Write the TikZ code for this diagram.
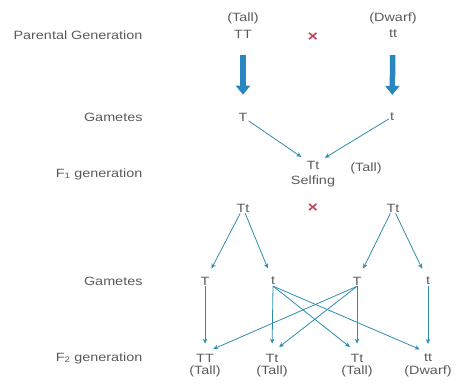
\documentclass[tikz,border=0pt]{standalone}
\usepackage{fontspec}
\setmainfont{Liberation Sans}[FakeStretch=1.2]
\usetikzlibrary{arrows.meta,positioning}
\definecolor{txtgray}{HTML}{5A5A5A}
\definecolor{linkblue}{HTML}{2E8DAE}
\definecolor{bigblue}{HTML}{2A86C0}
\definecolor{crossred}{HTML}{C24458}

\begin{document}
\begin{tikzpicture}[x=1pt, y=-1pt,
    rowlbl/.style={anchor=east, text=txtgray, font=\fontsize{12}{13}\selectfont},
    gene/.style={text=txtgray, inner sep=1pt, font=\fontsize{12}{13}\selectfont},
    cross/.style={text=crossred, inner sep=1pt, font=\fontsize{15}{16}\selectfont\bfseries},
    link/.style={draw=linkblue, thick, -{Stealth[length=5pt,width=4.5pt]}},
    bigarrow/.style={draw=bigblue, line width=5.5pt, -{Triangle[length=9pt,width=14pt]}}
]
    \useasboundingbox (0,0) rectangle (455,385);

    % row labels
    \node[rowlbl] (lpar) at (146,35) {Parental Generation};
    \node[rowlbl] (lgam1) at (146,117) {Gametes};
    \node[rowlbl] (lf1) at (146,174) {F\textsubscript{1} generation};
    \node[rowlbl] (lgam2) at (146,281) {Gametes};
    \node[rowlbl] (lf2) at (146,358) {F\textsubscript{2} generation};

    % parents
    \node[gene] (pTT) at (243,34) {TT};
    \node[gene] (ptt) at (393,34) {tt};
    \node[gene] (pTall) at (243,18) {(Tall)};
    \node[gene] (pDwarf) at (393,18) {(Dwarf)};
    \node[cross] (x1) at (313,37) {×};

    % gametes of parents
    \node[gene] (gT) at (243,117) {T};
    \node[gene] (gt) at (392,117) {t};
    \draw[bigarrow, shorten <=16pt, shorten >=17pt] (pTT) -- (gT);
    \draw[bigarrow, shorten <=16pt, shorten >=17pt] (ptt) -- (gt);

    % F1
    \node[gene] (f1) at (313,165) {Tt};
    \node[gene] (f1ph) at (366,168) {(Tall)};
    \node[gene] (self) at (313,181) {Selfing};
    \draw[link, shorten >=5pt] (gT) -- (f1);
    \draw[link, shorten >=5pt] (gt) -- (f1);

    \node[gene] (f1L) at (243,208) {Tt};
    \node[gene] (f1R) at (393,208) {Tt};
    \node[cross] (x2) at (313,208) {×};

    % gametes of F1
    \node[gene] (g2T) at (205,281) {T};
    \node[gene] (g2t) at (273,281) {t};
    \node[gene] (g3T) at (357,281) {T};
    \node[gene] (g3t) at (428,281) {t};
    \draw[link, shorten >=8pt] (f1L) -- (g2T);
    \draw[link, shorten >=8pt] (f1L) -- (g2t);
    \draw[link, shorten >=8pt] (f1R) -- (g3T);
    \draw[link, shorten >=8pt] (f1R) -- (g3t);

    % F2
    \node[gene] (f2a) at (205,358) {TT};
    \node[gene] (f2b) at (272,358) {Tt};
    \node[gene] (f2c) at (357,358) {Tt};
    \node[gene] (f2d) at (428,358) {tt};
    \node[gene, below=1pt of f2a] (f2aph) {(Tall)};
    \node[gene, below=1pt of f2b] (f2bph) {(Tall)};
    \node[gene, below=1pt of f2c] (f2cph) {(Tall)};
    \node[gene, below=1pt of f2d] (f2dph) {(Dwarf)};

    \draw[link, shorten >=9pt] (g2T.south) -- (f2a.north);
    \draw[link, shorten >=9pt] (g2t.south) -- (f2b.north);
    \draw[link, shorten >=9pt] (g3T.south) -- (f2c.north);
    \draw[link, shorten >=9pt] (g3t.south) -- (f2d.north);
    \draw[link, shorten >=9pt] (g2t.south) -- (f2c.north);
    \draw[link, shorten >=9pt] (g2t.south) -- (f2d.north);
    \draw[link, shorten >=9pt] (g3T.south) -- (f2a.north);
    \draw[link, shorten >=9pt] (g3T.south) -- (f2b.north);
\end{tikzpicture}
\end{document}
